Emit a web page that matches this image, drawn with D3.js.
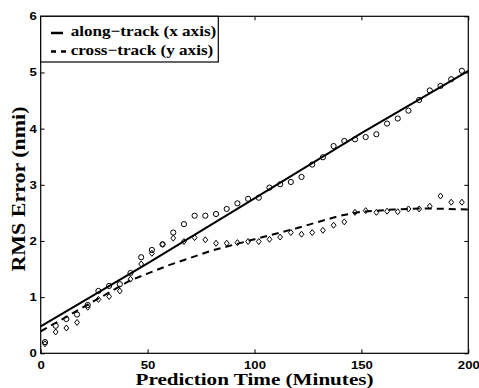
<!DOCTYPE html>
<html><head><meta charset="utf-8">
<script src="https://cdn.jsdelivr.net/npm/d3@7"></script>
<style>html,body{margin:0;padding:0;background:#fff;}svg{display:block;}</style>
</head><body>
<svg id="chart" width="479" height="388"></svg>
<script>
const times = [2,7,12,17,22,27,32,37,42,47,52,57,62,67,72,77,82,87,92,97,102,107,112,117,122,127,132,137,142,147,152,157,162,167,172,177,182,187,192,197];
const alongTrack = [0.20,0.49,0.61,0.69,0.86,1.11,1.20,1.23,1.43,1.71,1.84,1.94,2.15,2.30,2.45,2.45,2.48,2.57,2.67,2.75,2.77,2.95,3.01,3.05,3.14,3.36,3.49,3.69,3.78,3.81,3.85,3.90,4.09,4.18,4.32,4.51,4.68,4.76,4.88,5.03];
const crossTrack = [0.17,0.38,0.45,0.55,0.82,0.96,1.01,1.11,1.32,1.59,1.78,1.94,2.05,1.99,2.06,2.02,1.96,1.96,1.97,1.99,1.99,2.03,2.07,2.15,2.12,2.15,2.19,2.28,2.34,2.51,2.54,2.51,2.53,2.52,2.57,2.57,2.62,2.80,2.69,2.69];
const alongFitT = [0,50,100,150,200];
const alongFitV = [0.48,1.60,2.76,3.92,5.03];
const crossFitT = [0,42,60,80,100,120,140,150,165,180,200];
const crossFitV = [0.39,1.30,1.57,1.83,2.03,2.23,2.45,2.52,2.56,2.58,2.56];
const xTicks = [0,50,100,150,200];
const yTicks = [0,1,2,3,4,5,6];
const legendLabels = ["along\u2212track (x axis)","cross\u2212track (y axis)"];
const xTitle = "Prediction Time (Minutes)";
const yTitle = "RMS Error (nmi)";

const L = 40.7, R = 468.3, T = 16.3, B = 353.3;
const svg = d3.select("#chart");
const x = d3.scaleLinear().domain([0,200]).range([L,R]);
const y = d3.scaleLinear().domain([0,6]).range([B,T]);

const tickFont = "'Liberation Sans', Arial, sans-serif";
const serif = "'Liberation Serif', 'Times New Roman', Times, serif";

function styleAxis(g, showLabels){
  g.select(".domain").remove();
  g.selectAll(".tick line").attr("stroke","#000").attr("stroke-width",1);
  g.selectAll(".tick text").each(function(){
    const t = d3.select(this);
    if(!showLabels){ t.remove(); return; }
    const s = t.text();
    t.attr("font-family",tickFont).attr("font-weight","bold").attr("font-size","11px")
     .attr("fill","#000").attr("textLength", s.length*7.3).attr("lengthAdjust","spacingAndGlyphs");
  });
}
svg.append("g").attr("class","xb").attr("transform",`translate(0,${B})`)
  .call(d3.axisBottom(x).tickValues(xTicks).tickSize(-4).tickFormat(d3.format("d")))
  .call(g=>styleAxis(g,true));
svg.selectAll(".xb .tick text").attr("y",15.5).attr("dy",null);
svg.append("g").attr("transform",`translate(0,${T})`)
  .call(d3.axisTop(x).tickValues(xTicks).tickSize(-4).tickFormat(""))
  .call(g=>styleAxis(g,false));
svg.append("g").attr("transform",`translate(${L},0)`)
  .call(d3.axisLeft(y).tickValues(yTicks).tickSize(-4).tickPadding(4).tickFormat(d3.format("d")))
  .call(g=>styleAxis(g,true));
svg.append("g").attr("transform",`translate(${R},0)`)
  .call(d3.axisRight(y).tickValues(yTicks).tickSize(-4).tickFormat(""))
  .call(g=>styleAxis(g,false));

const lineGen = d3.line().x(d=>x(d[0])).y(d=>y(d[1]));
svg.append("path").datum(alongFitT.map((t,i)=>[t,alongFitV[i]]))
  .attr("d",lineGen).attr("fill","none").attr("stroke","#000").attr("stroke-width",2);
svg.append("path").datum(crossFitT.map((t,i)=>[t,crossFitV[i]]))
  .attr("d",lineGen).attr("fill","none").attr("stroke","#000").attr("stroke-width",2)
  .attr("stroke-dasharray","7,5");

svg.append("g").selectAll("circle").data(times.map((t,i)=>[t,alongTrack[i]])).join("circle")
  .attr("cx",d=>x(d[0])).attr("cy",d=>y(d[1])).attr("r",2.6)
  .attr("fill","none").attr("stroke","#000").attr("stroke-width",1);
const diamond = "M0,-3L2.4,0L0,3L-2.4,0Z";
svg.append("g").selectAll("path").data(times.map((t,i)=>[t,crossTrack[i]])).join("path")
  .attr("transform",d=>`translate(${x(d[0])},${y(d[1])})`).attr("d",diamond)
  .attr("fill","none").attr("stroke","#000").attr("stroke-width",1);

svg.append("rect").attr("x",L).attr("y",T).attr("width",R-L).attr("height",B-T)
  .attr("fill","none").attr("stroke","#000").attr("stroke-width",1.2);

const lg = svg.append("g");
lg.append("rect").attr("x",L).attr("y",T).attr("width",218.3-L).attr("height",62-T)
  .attr("fill","#fff").attr("stroke","#000").attr("stroke-width",1.2);
lg.append("line").attr("x1",51).attr("x2",63).attr("y1",33).attr("y2",33).attr("stroke","#000").attr("stroke-width",2.5);
lg.append("line").attr("x1",51).attr("x2",68).attr("y1",51.5).attr("y2",51.5).attr("stroke","#000").attr("stroke-width",2.5).attr("stroke-dasharray","5,5");
const legW = [145.6,142.6];
legendLabels.forEach((s,i)=>{
  lg.append("text").attr("x",70.7).attr("y",[35.5,55][i]).text(s)
    .attr("font-family",serif).attr("font-weight","bold").attr("font-size","15px")
    .attr("textLength",legW[i]).attr("lengthAdjust","spacingAndGlyphs");
});

svg.append("text").attr("x",(L+R)/2).attr("y",384.5).attr("text-anchor","middle").text(xTitle)
  .attr("font-family",serif).attr("font-weight","bold").attr("font-size","17px")
  .attr("textLength",238).attr("lengthAdjust","spacingAndGlyphs");
svg.append("text").attr("transform","translate(25,189) rotate(-90)").attr("text-anchor","middle").text(yTitle)
  .attr("font-family",serif).attr("font-weight","bold").attr("font-size","19px")
  .attr("textLength",165).attr("lengthAdjust","spacingAndGlyphs");
</script>
</body></html>
